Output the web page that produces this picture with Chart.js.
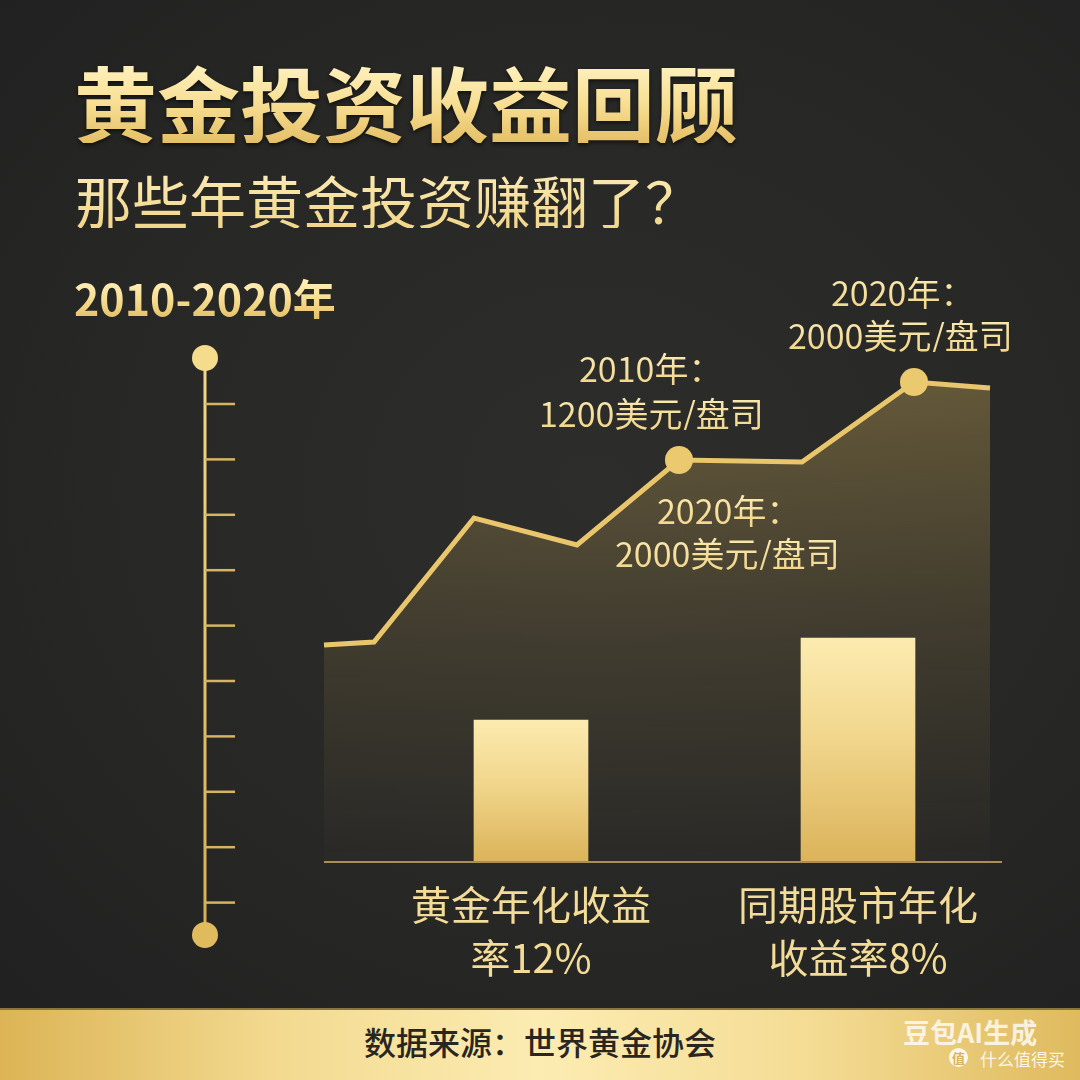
<!DOCTYPE html>
<html>
<head>
<meta charset="utf-8">
<script src="https://cdn.jsdelivr.net/npm/chart.js@4.4.1/dist/chart.umd.min.js"></script>
<style>
html,body{margin:0;padding:0;}
body{width:1080px;height:1080px;overflow:hidden;position:relative;
  background:radial-gradient(ellipse 85% 75% at 55% 45%, #2d2d2c 0%, #272726 55%, #1f1f1f 100%);
  font-family:"Noto Sans CJK SC","Noto Sans",sans-serif;}
.abs{position:absolute;white-space:nowrap;line-height:1;}
.gold{background:linear-gradient(180deg,#fff3c4 0%,#f7dd90 55%,#e4bf66 100%);
  -webkit-background-clip:text;background-clip:text;color:transparent;}
.cream{background:linear-gradient(180deg,#fbeab4 0%,#f1d68a 100%);
  -webkit-background-clip:text;background-clip:text;color:transparent;}
#title{left:74px;top:60px;font-size:83px;font-weight:700;filter:drop-shadow(0 2px 2px rgba(0,0,0,.6));}
#subtitle{left:75px;top:171px;font-size:57px;font-weight:400;}
#period{left:74px;top:276px;font-size:43px;font-weight:700;}
#chart{position:absolute;left:0;top:0;}
.anno{font-size:34px;}
.barlab{font-size:40px;transform:translateX(-50%);color:#f3dc98;}
#footer{position:absolute;left:0;top:1008px;width:1080px;height:72px;
  background:linear-gradient(90deg,#dcb455 0%,#f2d98f 25%,#fcecb2 50%,#f4dc94 75%,#dfba5e 100%);
  border-top:2px solid #8a7440;box-sizing:border-box;}
#source{left:0;width:1080px;text-align:center;top:1025px;font-size:32px;color:#2a261f;font-weight:500;}
#wm1{left:903px;top:1018px;font-size:27px;font-weight:700;color:rgba(255,255,255,0.78);}
#wm2{left:980px;top:1050px;font-size:17px;color:rgba(255,255,255,0.85);}
#wmc{left:949px;top:1048px;width:19px;height:19px;border-radius:50%;background:rgba(255,255,255,0.85);
  color:#d6b260;font-size:13px;text-align:center;line-height:19px;font-weight:700;}
</style>
</head>
<body>
<svg id="timeline" class="abs" style="left:0;top:0" width="300" height="1000"></svg>
<div id="title" class="abs gold">黄金投资收益回顾</div>
<div id="subtitle" class="abs cream">那些年黄金投资赚翻了？</div>
<div id="period" class="abs gold">2010-2020年</div>
<canvas id="chart" width="1080" height="1080"></canvas>
<div id="footer"></div>
<div id="source" class="abs">数据来源：世界黄金协会</div>
<div id="wm1" class="abs">豆包AI生成</div>
<div id="wmc" class="abs">值</div>
<div id="wm2" class="abs">什么值得买</div>
<script>
// ---- data (abstract units, no axis shown) ----
const linePositions = [0, 0.5, 1.5, 2.53, 3.55, 4.78, 5.9, 6.66];
const lineValues    = [4.34, 4.4, 6.88, 6.34, 8.04, 8.0, 9.6, 9.48];
const highlightIdx  = [4, 6];
const barCategories = [['黄金年化收益', '率12%'], ['同期股市年化', '收益率8%']];
const barPositions  = [2.07, 5.34];
const barValues     = [2.84, 4.48];
const annoLines = [['2010年：', '1200美元/盘司'], ['2020年：', '2000美元/盘司'], ['2020年：', '2000美元/盘司']];

// ---- layout (positions, not data) ----
const annoLayout = [
  [[579, 351], [539, 396]],
  [[657, 493], [615, 536]],
  [[831, 275], [788, 318]]
];
const barLabelTops = [883, 936];

// timeline decoration
(function(){
  const svg = document.getElementById('timeline');
  let html = '<defs><linearGradient id="tg" gradientUnits="userSpaceOnUse" x1="0" y1="358" x2="0" y2="935"><stop offset="0" stop-color="#f3d888"/><stop offset="1" stop-color="#d6af52"/></linearGradient></defs>';
  html += '<rect x="203.5" y="358" width="3" height="577" fill="url(#tg)"/>';
  for (let i = 0; i < 10; i++) {
    const y = 404 + i * 55.4;
    html += `<line x1="205" y1="${y}" x2="235" y2="${y}" stroke="#d6b460" stroke-width="2.5"/>`;
  }
  html += '<circle cx="205" cy="358" r="13" fill="#f5dc8c"/>';
  html += '<circle cx="205" cy="935" r="13" fill="#e0bb5e"/>';
  svg.innerHTML = html;
})();

annoLines.forEach((lines, i) => {
  lines.forEach((t, j) => {
    const d = document.createElement('div');
    d.className = 'abs anno cream';
    d.style.left = annoLayout[i][j][0] + 'px';
    d.style.top = annoLayout[i][j][1] + 'px';
    d.textContent = t;
    document.body.appendChild(d);
  });
});

const baselinePlugin = {
  id: 'baseline',
  afterDatasetsDraw(chart) {
    const {ctx, chartArea} = chart;
    ctx.save();
    ctx.strokeStyle = '#a98f55';
    ctx.lineWidth = 2;
    ctx.beginPath();
    ctx.moveTo(chartArea.left, chartArea.bottom);
    ctx.lineTo(chartArea.right, chartArea.bottom);
    ctx.stroke();
    ctx.restore();
  }
};

function fillGradient(c) {
  const {chart} = c;
  const area = chart.chartArea;
  if (!area) return 'rgba(200,170,90,0.2)';
  const g = chart.ctx.createLinearGradient(0, area.top, 0, area.bottom);
  g.addColorStop(0, 'rgba(215,180,90,0.36)');
  g.addColorStop(0.5, 'rgba(200,168,85,0.16)');
  g.addColorStop(1, 'rgba(180,150,75,0.02)');
  return g;
}
function barGradient(c) {
  const {chart} = c;
  const area = chart.chartArea;
  if (!area || !c.raw) return '#ecd084';
  const top = chart.scales.y.getPixelForValue(c.raw.y);
  const g = chart.ctx.createLinearGradient(0, top, 0, area.bottom);
  g.addColorStop(0, '#fcebb0');
  g.addColorStop(0.45, '#f1d68c');
  g.addColorStop(1, '#dbb35a');
  return g;
}

const chart = new Chart(document.getElementById('chart'), {
  type: 'bar',
  data: {
    datasets: [
      {
        type: 'bar',
        data: barPositions.map((x, i) => ({x, y: barValues[i]})),
        backgroundColor: barGradient,
        barThickness: 114,
        borderWidth: 0,
        order: 1
      },
      {
        type: 'line',
        data: linePositions.map((x, i) => ({x, y: lineValues[i]})),
        borderColor: '#e9c66c',
        borderWidth: 5,
        borderJoinStyle: 'miter',
        tension: 0,
        fill: 'origin',
        backgroundColor: fillGradient,
        pointRadius: c => highlightIdx.includes(c.dataIndex) ? 14 : 0,
        pointBackgroundColor: '#ebc96f',
        pointBorderWidth: 0,
        clip: false,
        order: 2
      }
    ]
  },
  options: {
    responsive: false,
    animation: false,
    devicePixelRatio: 1,
    events: [],
    layout: {padding: {left: 324, right: 78, top: 362, bottom: 218}},
    scales: {
      x: {type: 'linear', min: 0, max: 6.78, offset: false, display: false},
      y: {min: 0, max: 10, display: false}
    },
    plugins: {legend: {display: false}, tooltip: {enabled: false}}
  },
  plugins: [baselinePlugin]
});

barCategories.forEach((lines, i) => {
  const cx = chart.scales.x.getPixelForValue(barPositions[i]);
  lines.forEach((t, j) => {
    const d = document.createElement('div');
    d.className = 'abs barlab';
    d.style.left = cx + 'px';
    d.style.top = barLabelTops[j] + 'px';
    d.textContent = t;
    document.body.appendChild(d);
  });
});
</script>
</body>
</html>
